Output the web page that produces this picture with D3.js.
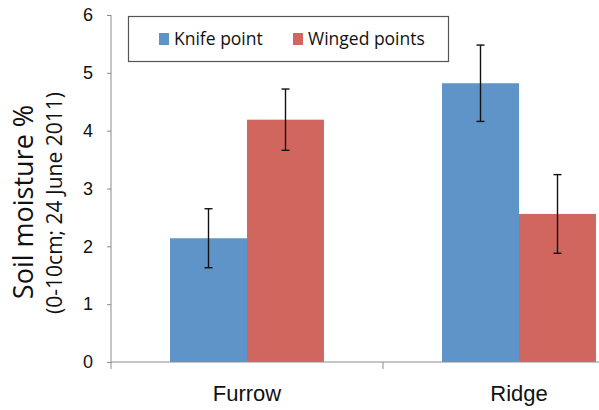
<!DOCTYPE html>
<html>
<head>
<meta charset="utf-8">
<script src="https://cdn.jsdelivr.net/npm/d3@7"></script>
<style>
  html, body { margin: 0; padding: 0; background: #fff; }
  svg { display: block; font-family: "Open Sans", "Noto Sans", sans-serif; }
</style>
</head>
<body>
<svg id="chart" width="599" height="410"></svg>
<script>
// Soil moisture by planting position and opener type
const categories = ["Furrow", "Ridge"];
const seriesNames = ["Knife point", "Winged points"];
const knifeValues = [2.14, 4.82];
const wingedValues = [4.19, 2.56];
const knifeErrors = [0.51, 0.66];
const wingedErrors = [0.53, 0.68];
const yTicks = [0, 1, 2, 3, 4, 5, 6];
const colors = ["#5E94C8", "#D1665F"];

const rows = categories.map((c, i) => ({
  category: c,
  bars: [
    { series: seriesNames[0], value: knifeValues[i], err: knifeErrors[i] },
    { series: seriesNames[1], value: wingedValues[i], err: wingedErrors[i] }
  ]
}));

const svg = d3.select("#chart");
const axisColor = "#8c8c8c";

const y = d3.scaleLinear().domain([0, 6]).range([362, 15]);
const x = d3.scaleBand().domain(categories).range([111, 655]).padding(0);
const groupWidth = 154;
const xInner = d3.scaleBand().domain(seriesNames)
  .range([0, groupWidth]).padding(0);
const color = d3.scaleOrdinal().domain(seriesNames).range(colors);

// Bars
const groups = svg.append("g").selectAll("g").data(rows).join("g")
  .attr("transform", d => `translate(${x(d.category) + (x.bandwidth() - groupWidth) / 2},0)`);

groups.selectAll("rect").data(d => d.bars).join("rect")
  .attr("x", d => xInner(d.series))
  .attr("y", d => y(d.value))
  .attr("width", xInner.bandwidth())
  .attr("height", d => y(0) - y(d.value))
  .attr("fill", d => color(d.series));

// Error bars
const eb = groups.selectAll("g.err").data(d => d.bars).join("g").attr("class", "err")
  .attr("stroke", "#111").attr("stroke-width", 1.4);
eb.append("line")
  .attr("x1", d => xInner(d.series) + xInner.bandwidth() / 2)
  .attr("x2", d => xInner(d.series) + xInner.bandwidth() / 2)
  .attr("y1", d => y(d.value + d.err))
  .attr("y2", d => y(d.value - d.err));
[1, -1].forEach(s => {
  eb.append("line")
    .attr("x1", d => xInner(d.series) + xInner.bandwidth() / 2 - 4)
    .attr("x2", d => xInner(d.series) + xInner.bandwidth() / 2 + 4)
    .attr("y1", d => y(d.value + s * d.err))
    .attr("y2", d => y(d.value + s * d.err));
});

// Y axis
const yAxis = svg.append("g").attr("transform", "translate(111,0)")
  .call(d3.axisLeft(y).tickValues(yTicks).tickSize(4).tickPadding(14).tickFormat(d3.format("d")));
yAxis.select(".domain").attr("stroke", axisColor).attr("d", `M0,${y(6)}V${y(0)}`);
yAxis.selectAll(".tick line").attr("stroke", axisColor);
yAxis.selectAll(".tick text").attr("fill", "#111").style("font-size", "18px");

// X axis
const xAxis = svg.append("g").attr("transform", `translate(0,${y(0)})`)
  .call(d3.axisBottom(x).tickSize(0).tickPadding(23));
xAxis.select(".domain").attr("stroke", axisColor).attr("d", "M111,0H599");
xAxis.selectAll(".tick text").attr("fill", "#111").style("font-size", "22px");
xAxis.selectAll("line.sep").data([111, 383]).join("line").attr("class", "sep")
  .attr("x1", d => d).attr("x2", d => d).attr("y1", 0).attr("y2", 7)
  .attr("stroke", axisColor);

// Y axis titles
svg.append("text")
  .attr("transform", "translate(33,202) rotate(-90)")
  .attr("text-anchor", "middle").attr("fill", "#111")
  .style("font-size", "27px")
  .text("Soil moisture %");
svg.append("text")
  .attr("transform", "translate(62,203) rotate(-90)")
  .attr("text-anchor", "middle").attr("fill", "#111")
  .style("font-size", "21px")
  .text("(0-10cm; 24 June 2011)");

// Legend
const legend = svg.append("g");
legend.append("rect")
  .attr("x", 128.5).attr("y", 16.5).attr("width", 320).attr("height", 45)
  .attr("fill", "#fff").attr("stroke", "#555").attr("stroke-width", 1.2);
const legendX = [159, 293];
const items = legend.selectAll("g.item").data(seriesNames).join("g").attr("class", "item")
  .attr("transform", (d, i) => `translate(${legendX[i]},0)`);
items.append("rect").attr("x", 0).attr("y", 33).attr("width", 10).attr("height", 12)
  .attr("fill", d => color(d));
items.append("text").attr("x", 15).attr("y", 45).attr("fill", "#111")
  .style("font-size", "17.5px").text(d => d);
</script>
</body>
</html>
